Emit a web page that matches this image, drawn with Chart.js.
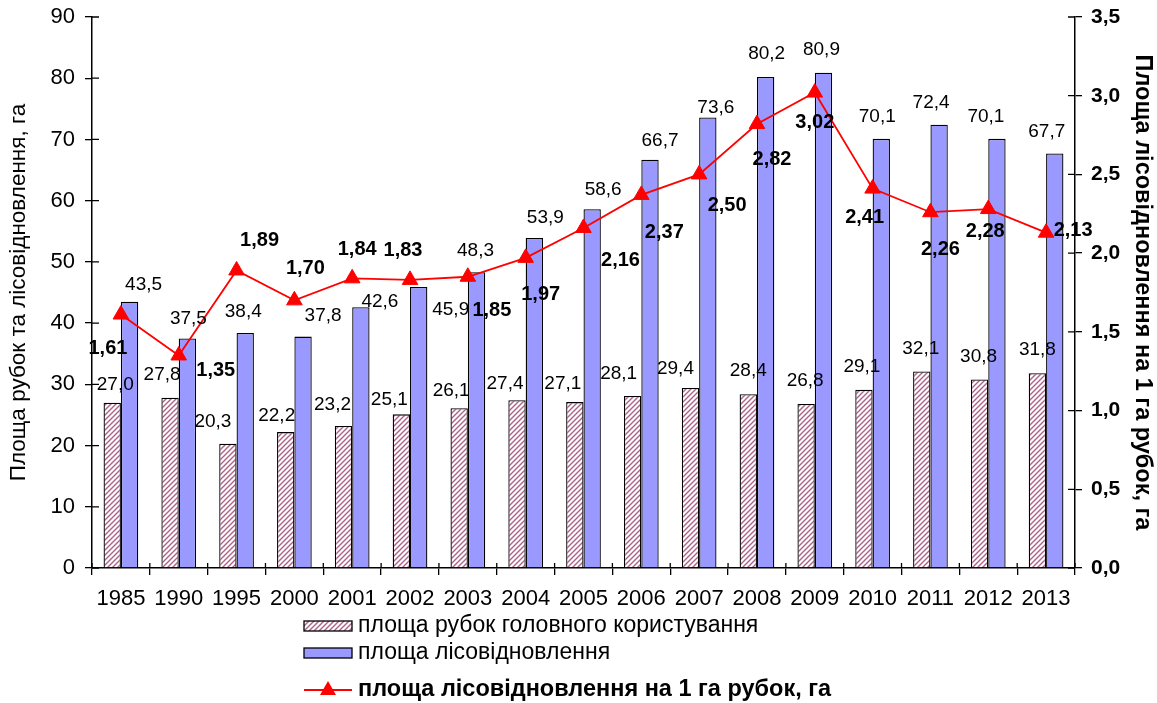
<!DOCTYPE html>
<html>
<head>
<meta charset="utf-8">
<script src="https://cdn.jsdelivr.net/npm/chart.js@4.4.0/dist/chart.umd.min.js"></script>
<style>
  html, body { margin: 0; padding: 0; background: #fff; }
</style>
</head>
<body>
<canvas id="lisovCV" width="1157" height="703"></canvas>
<script>
const years = ['1985', '1990', '1995', '2000', '2001', '2002', '2003', '2004', '2005', '2006', '2007', '2008', '2009', '2010', '2011', '2012', '2013'];
const ploshchaRubok = [27.0, 27.8, 20.3, 22.2, 23.2, 25.1, 26.1, 27.4, 27.1, 28.1, 29.4, 28.4, 26.8, 29.1, 32.1, 30.8, 31.8];
const ploshchaLisovidn = [43.5, 37.5, 38.4, 37.8, 42.6, 45.9, 48.3, 53.9, 58.6, 66.7, 73.6, 80.2, 80.9, 70.1, 72.4, 70.1, 67.7];
const lisovidnNaGa = [1.61, 1.35, 1.89, 1.70, 1.84, 1.83, 1.85, 1.97, 2.16, 2.37, 2.50, 2.82, 3.02, 2.41, 2.26, 2.28, 2.13];
const seriesNames = ['площа рубок головного користування', 'площа лісовідновлення', 'площа лісовідновлення на 1 га рубок, га'];
const leftTitle = 'Площа рубок та лісовідновлення, га';
const rightTitle = 'Площа лісовідновлення на 1 га рубок, га';

// where Excel put each value label, relative to the bar top / marker
const labelShift = [
  { dx: [3, -8, -15, -9, -11, -12, -8, -12, -12, -14, -15, 0, -1, -2, -1, -1, 0],
    dy: [-18, -23, -22, -16, -21, -15, -17, -16, -18, -22, -19, -23, -23, -23, -23, -23, -24] },
  { dx: [14, 1, -2, 20, 19, 32, -1, 11, 11, 10, 8, 1, -2, -4, -8, -11, -8],
    dy: [-17, -20, -21, -21, -5, 23, -22, -20, -19, -19, -10, -23, -23, -22, -22, -22, -22] },
  { dx: [-13, 37, 23, 11, 5, -7, 24, 15, 37, 23, 28, 15, 0, -8, 10, -3, 27],
    dy: [34, 15, -30, -32, -29, -29, 34, 37, 33, 38, 31, 35, 30, 29, 37, 22, -2] }
];

const FONT = '"Liberation Sans", Arial, sans-serif';
const comma = (v, d) => v.toFixed(d).replace('.', ',');

function hatch() {
  const c = document.createElement('canvas');
  c.width = 5; c.height = 5;
  const g = c.getContext('2d');
  g.fillStyle = '#ffffff';
  g.fillRect(0, 0, 5, 5);
  g.strokeStyle = '#ad6189';
  g.lineWidth = 1.4;
  g.beginPath();
  g.moveTo(0, 5); g.lineTo(5, 0);
  g.moveTo(-1, 1); g.lineTo(1, -1);
  g.moveTo(4, 6); g.lineTo(6, 4);
  g.stroke();
  return g.createPattern(c, 'repeat');
}
const hatchFill = hatch();

// ticks in Excel cross the axis line, Chart.js only draws the outer half
const crossTicks = {
  id: 'crossTicks',
  afterDraw(chart) {
    const { ctx, chartArea: a, scales } = chart;
    ctx.save();
    ctx.strokeStyle = '#000';
    ctx.lineWidth = 1.3;
    ctx.beginPath();
    scales.y.ticks.forEach((t, i) => {
      const yy = scales.y.getPixelForTick(i);
      ctx.moveTo(a.left, yy); ctx.lineTo(a.left + 7, yy);
    });
    scales.y1.ticks.forEach((t, i) => {
      const yy = scales.y1.getPixelForTick(i);
      ctx.moveTo(a.right, yy); ctx.lineTo(a.right - 7, yy);
    });
    const n = years.length;
    for (let i = 0; i <= n; i++) {
      const xx = a.left + (a.right - a.left) * i / n;
      ctx.moveTo(xx, a.bottom); ctx.lineTo(xx, a.bottom - 5);
    }
    ctx.stroke();
    ctx.restore();
  }
};

const valueLabels = {
  id: 'valueLabels',
  afterDatasetsDraw(chart) {
    const ctx = chart.ctx;
    ctx.save();
    ctx.fillStyle = '#000';
    ctx.textAlign = 'center';
    ctx.textBaseline = 'middle';
    chart.data.datasets.forEach((ds, di) => {
      const meta = chart.getDatasetMeta(di);
      const isLine = ds.type === 'line';
      ctx.font = isLine ? 'bold 20px ' + FONT : '19px ' + FONT;
      meta.data.forEach((el, i) => {
        const txt = comma(ds.data[i], isLine ? 2 : 1);
        ctx.fillText(txt, el.x + labelShift[di].dx[i], el.y + labelShift[di].dy[i]);
      });
    });
    ctx.restore();
  }
};

// stacked legend under the axis, like the Excel one
const stackLegend = {
  id: 'stackLegend',
  afterDraw(chart) {
    const ctx = chart.ctx;
    const ds = chart.data.datasets;
    const x0 = 304, tx = 358, rows = [626, 653, 690];
    ctx.save();
    ctx.textAlign = 'left';
    ctx.textBaseline = 'middle';
    for (let k = 0; k < 2; k++) {
      ctx.fillStyle = ds[k].backgroundColor;
      ctx.fillRect(x0, rows[k] - 5, 48, 10);
      ctx.strokeStyle = '#000';
      ctx.lineWidth = 1.3;
      ctx.strokeRect(x0, rows[k] - 5, 48, 10);
      ctx.fillStyle = '#000';
      ctx.font = '23px ' + FONT;
      ctx.fillText(ds[k].label, tx, rows[k]);
    }
    const r = rows[2];
    ctx.strokeStyle = ds[2].borderColor;
    ctx.lineWidth = 1.8;
    ctx.beginPath(); ctx.moveTo(x0, r); ctx.lineTo(x0 + 48, r); ctx.stroke();
    ctx.fillStyle = ds[2].borderColor;
    ctx.beginPath();
    ctx.moveTo(x0 + 24, r - 9); ctx.lineTo(x0 + 32, r + 5); ctx.lineTo(x0 + 16, r + 5);
    ctx.closePath(); ctx.fill();
    ctx.fillStyle = '#000';
    ctx.font = 'bold 23.5px ' + FONT;
    ctx.fillText(ds[2].label, tx, r);
    ctx.restore();
  }
};

new Chart(document.getElementById('lisovCV'), {
  type: 'bar',
  data: {
    labels: years,
    datasets: [{
      label: seriesNames[0],
      data: ploshchaRubok,
      backgroundColor: hatchFill,
      borderColor: '#000',
      borderWidth: 1.3,
      borderSkipped: 'bottom',
      yAxisID: 'y',
      categoryPercentage: 0.6,
      barPercentage: 1.0
    }, {
      label: seriesNames[1],
      data: ploshchaLisovidn,
      backgroundColor: '#9999FF',
      borderColor: '#000',
      borderWidth: 1.3,
      borderSkipped: 'bottom',
      yAxisID: 'y',
      categoryPercentage: 0.6,
      barPercentage: 1.0
    }, {
      type: 'line',
      label: seriesNames[2],
      data: lisovidnNaGa,
      borderColor: '#FF0000',
      borderWidth: 1.8,
      pointStyle: 'triangle',
      pointRadius: 9,
      pointBorderWidth: 1,
      pointBackgroundColor: '#FF0000',
      pointBorderColor: '#FF0000',
      yAxisID: 'y1',
      order: -1
    }]
  },
  options: {
    responsive: false,
    animation: false,
    layout: { padding: { top: 17, left: 0, right: 0, bottom: 0 } },
    plugins: {
      legend: { display: false },
      tooltip: { enabled: false }
    },
    scales: {
      x: {
        grid: { drawOnChartArea: false, tickLength: 7, color: '#000', lineWidth: 1.3 },
        border: { color: '#000', width: 1.5 },
        ticks: { color: '#000', padding: 11, maxRotation: 0, autoSkip: false,
                 font: { family: FONT, size: 22 } },
        afterFit: s => { s.height = 135; }
      },
      y: {
        position: 'left',
        min: 0, max: 90,
        grid: { drawOnChartArea: false, tickLength: 7, color: '#000', lineWidth: 1.3 },
        border: { color: '#000', width: 1.5 },
        ticks: { stepSize: 10, color: '#000', padding: 10,
                 font: { family: FONT, size: 22 } },
        title: { display: true, text: leftTitle, color: '#000', padding: { top: 5, bottom: 0 },
                 font: { family: FONT, size: 22.5 } },
        afterFit: s => { s.width = 92; s.paddingTop = 0; s.paddingBottom = 0; }
      },
      y1: {
        position: 'right',
        min: 0, max: 3.5,
        grid: { drawOnChartArea: false, tickLength: 7, color: '#000', lineWidth: 1.3 },
        border: { color: '#000', width: 1.5 },
        ticks: { stepSize: 0.5, color: '#000', padding: 9,
                 callback: v => comma(v, 1),
                 font: { family: FONT, size: 21, weight: 'bold' } },
        title: { display: true, text: rightTitle, color: '#000', padding: { top: 0, bottom: 2 },
                 font: { family: FONT, size: 23.5, weight: 'bold' } },
        afterFit: s => { s.width = 82; s.paddingTop = 0; s.paddingBottom = 0; }
      }
    }
  },
  plugins: [crossTicks, valueLabels, stackLegend]
});
</script>
</body>
</html>
